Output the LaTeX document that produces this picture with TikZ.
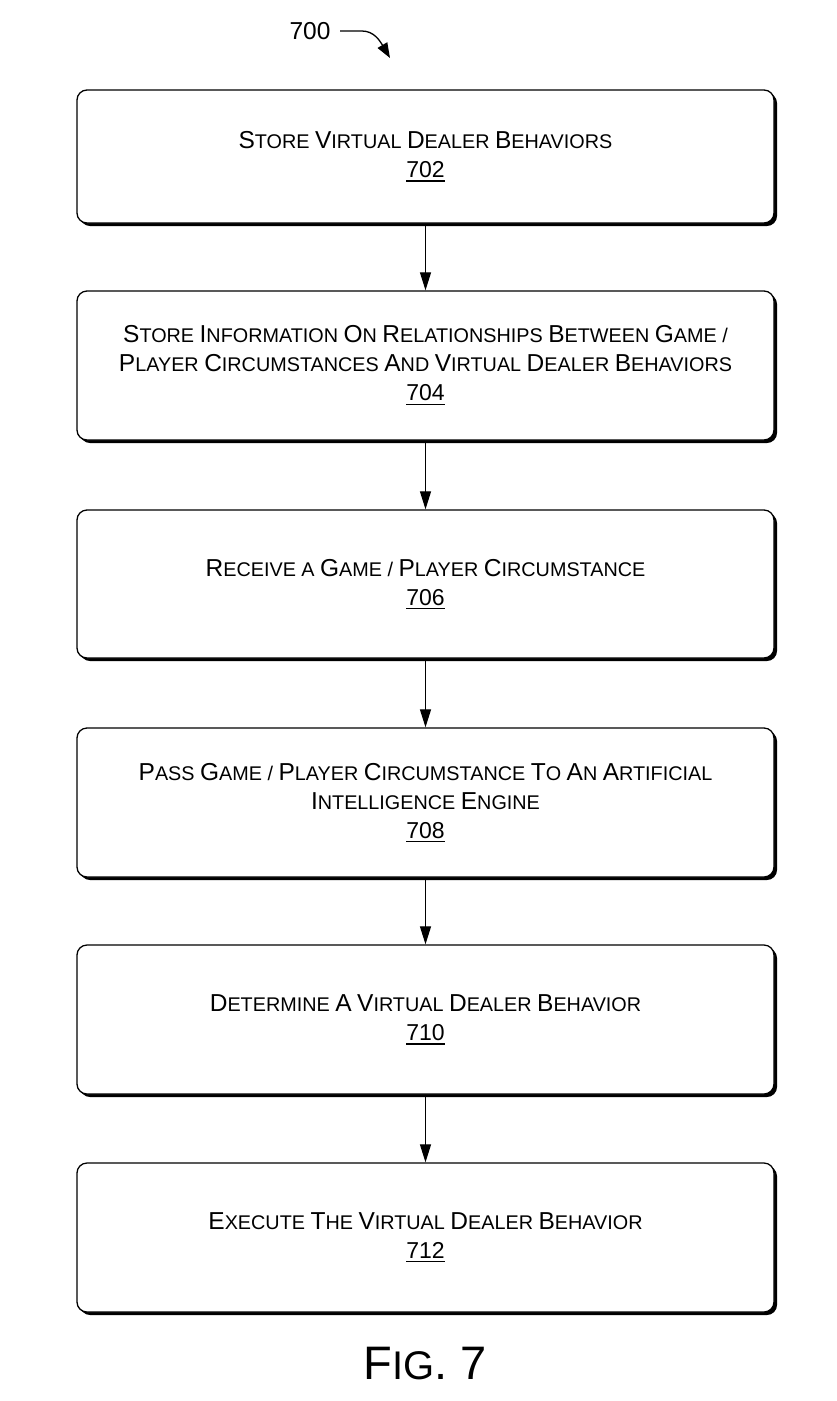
\documentclass[tikz,border=0pt]{standalone}
\usepackage{fontspec}
\setmainfont{Liberation Sans}
\usetikzlibrary{arrows.meta,shadows}
\newcommand\B[1]{{\fontsize{24.5}{29}\selectfont #1}}
\newcommand\N[1]{{\fontsize{23}{29}\selectfont\leavevmode\vtop{\hbox{#1}\kern2.5pt\hrule height 1.4pt}}}
\begin{document}
\begin{tikzpicture}[x=1pt,y=-1pt,
  box/.style={draw, line width=1.3pt, rounded corners=10pt, fill=white,
    minimum width=697pt, align=center, inner sep=0pt,
    font=\fontsize{19.8}{29}\selectfont,
    drop shadow={shadow xshift=3pt, shadow yshift=-3pt, fill=black, opacity=1}},
  arr/.style={line width=1.2pt, -{Triangle[length=18pt,width=11pt]}}]
\useasboundingbox (0,0) rectangle (836,1401);
\node[box, minimum height=133pt] (b702) at (425.5,156.5)
  {\B{S}TORE \B{V}IRTUAL \B{D}EALER \B{B}EHAVIORS\\ \N{702}};
\node[box, minimum height=149pt] (b704) at (425.5,365.5)
  {\B{S}TORE \B{I}NFORMATION \B{O}N \B{R}ELATIONSHIPS \B{B}ETWEEN \B{G}AME /\\
   \B{P}LAYER \B{C}IRCUMSTANCES \B{A}ND \B{V}IRTUAL \B{D}EALER \B{B}EHAVIORS\\ \N{704}};
\node[box, minimum height=148pt] (b706) at (425.5,584)
  {\B{R}ECEIVE A \B{G}AME / \B{P}LAYER \B{C}IRCUMSTANCE\\ \N{706}};
\node[box, minimum height=149pt] (b708) at (425.5,802.5)
  {\B{P}ASS \B{G}AME / \B{P}LAYER \B{C}IRCUMSTANCE \B{T}O \B{A}N \B{A}RTIFICIAL\\
   \B{I}NTELLIGENCE \B{E}NGINE\\ \N{708}};
\node[box, minimum height=149pt] (b710) at (425.5,1019.5)
  {\B{D}ETERMINE \B{A} \B{V}IRTUAL \B{D}EALER \B{B}EHAVIOR\\ \N{710}};
\node[box, minimum height=149pt] (b712) at (425.5,1237.5)
  {\B{E}XECUTE \B{T}HE \B{V}IRTUAL \B{D}EALER \B{B}EHAVIOR\\ \N{712}};
\draw[arr] (b702.south) -- (b704.north);
\draw[arr] (b704.south) -- (b706.north);
\draw[arr] (b706.south) -- (b708.north);
\draw[arr] (b708.south) -- (b710.north);
\draw[arr] (b710.south) -- (b712.north);
\node (n700) at (310,31) {\fontsize{24.5}{26}\selectfont 700};
\coordinate (t700) at (390,58);
\draw[line width=1.3pt, -{Triangle[length=15pt,width=11pt]}] (340,31) -- (362,31) .. controls (374,31) and (380,41) .. (t700);
\node (fig) at (425,1364) {\fontsize{47}{50}\selectfont F{\fontsize{40}{50}\selectfont IG}. 7};
\end{tikzpicture}
\end{document}
